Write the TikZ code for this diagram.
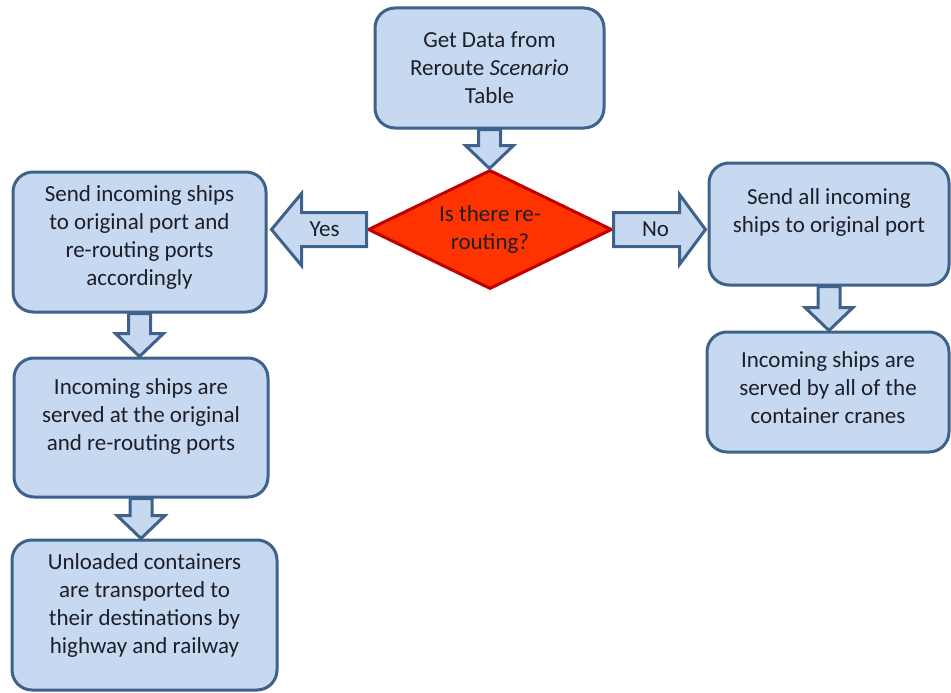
\documentclass[tikz,border=0pt]{standalone}
\usepackage{fontspec}
\setmainfont{Carlito}
\usetikzlibrary{shapes.geometric, calc}

\definecolor{boxfill}{RGB}{198,217,241}
\definecolor{boxline}{RGB}{62,98,140}
\definecolor{decfill}{RGB}{255,51,0}
\definecolor{decline}{RGB}{192,0,0}
\definecolor{txt}{RGB}{30,30,40}

\tikzset{
  box/.style={draw=boxline, fill=boxfill, line width=3pt, rounded corners=20pt,
    align=center, inner sep=0pt, text=txt, font=\fontsize{23}{28}\selectfont},
  decide/.style={diamond, aspect=2, draw=decline, fill=decfill, line width=3pt, inner sep=0pt,
    align=center, text=txt, font=\fontsize{23}{28}\selectfont,
    minimum width=244pt, minimum height=119pt},
  blk/.style={draw=boxline, fill=boxfill, line width=3pt, line join=miter},
  lbl/.style={inner sep=0pt, text=txt, font=\fontsize{23}{28}\selectfont},
}

% fat arrow pointing down, from the bottom of #1 to the top of #2
\newcommand{\downblk}[2]{%
  \draw[blk] let \p1=(#1.south), \p2=(#2.north) in
    (\x1-11pt,\y1) -- (\x1-11pt,\y2+23pt) -- (\x1-24pt,\y2+23pt) -- (\x1,\y2)
    -- (\x1+24pt,\y2+23pt) -- (\x1+11pt,\y2+23pt) -- (\x1+11pt,\y1) -- cycle;}

\begin{document}
\begin{tikzpicture}[x=1pt, y=-1pt]
\useasboundingbox (0,0) rectangle (951,693);

\node[box, minimum width=229pt, minimum height=120pt] (getdata) at (489.5,68)
  {Get Data from\\Reroute \emph{Scenario}\\Table};
\node[decide] (reroute) at (490,229.5) {Is there re-\\routing?};

\node[box, minimum width=253pt, minimum height=140pt, text depth=12pt] (sendboth) at (139.5,242)
  {Send incoming ships\\to original port and\\re-routing ports\\accordingly};
\node[box, minimum width=254pt, minimum height=139pt, text depth=25pt] (servedboth) at (141,427.5)
  {Incoming ships are\\served at the original\\and re-routing ports};
\node[box, minimum width=265pt, minimum height=150pt, text depth=23pt] (unload) at (144.5,615)
  {Unloaded containers\\are transported to\\their destinations by\\highway and railway};

\node[box, minimum width=240pt, minimum height=122pt, text depth=26pt] (sendorig) at (829,224)
  {Send all incoming\\ships to original port};
\node[box, minimum width=242pt, minimum height=120pt, text depth=8pt] (servedall) at (828,392)
  {Incoming ships are\\served by all of the\\container cranes};

% block arrows
\downblk{getdata}{reroute}
\downblk{sendboth}{servedboth}
\downblk{servedboth}{unload}
\downblk{sendorig}{servedall}

\draw[blk] let \p1=(reroute.west), \p2=(sendboth.east) in
  (\x1,\y1+17pt) -- (\x2+34pt,\y1+17pt) -- (\x2+34pt,\y1+36pt) -- (\x2+4pt,\y1)
  -- (\x2+34pt,\y1-36pt) -- (\x2+34pt,\y1-17pt) -- (\x1,\y1-17pt) -- cycle
  (\x1-42pt,\y1) node[lbl] (yes) {Yes};
\draw[blk] let \p1=(reroute.east), \p2=(sendorig.west) in
  (\x1,\y1+17pt) -- (\x2-28pt,\y1+17pt) -- (\x2-28pt,\y1+35pt) -- (\x2-2pt,\y1)
  -- (\x2-28pt,\y1-35pt) -- (\x2-28pt,\y1-17pt) -- (\x1,\y1-17pt) -- cycle
  (\x1+42pt,\y1) node[lbl] (no) {No};
\end{tikzpicture}
\end{document}
